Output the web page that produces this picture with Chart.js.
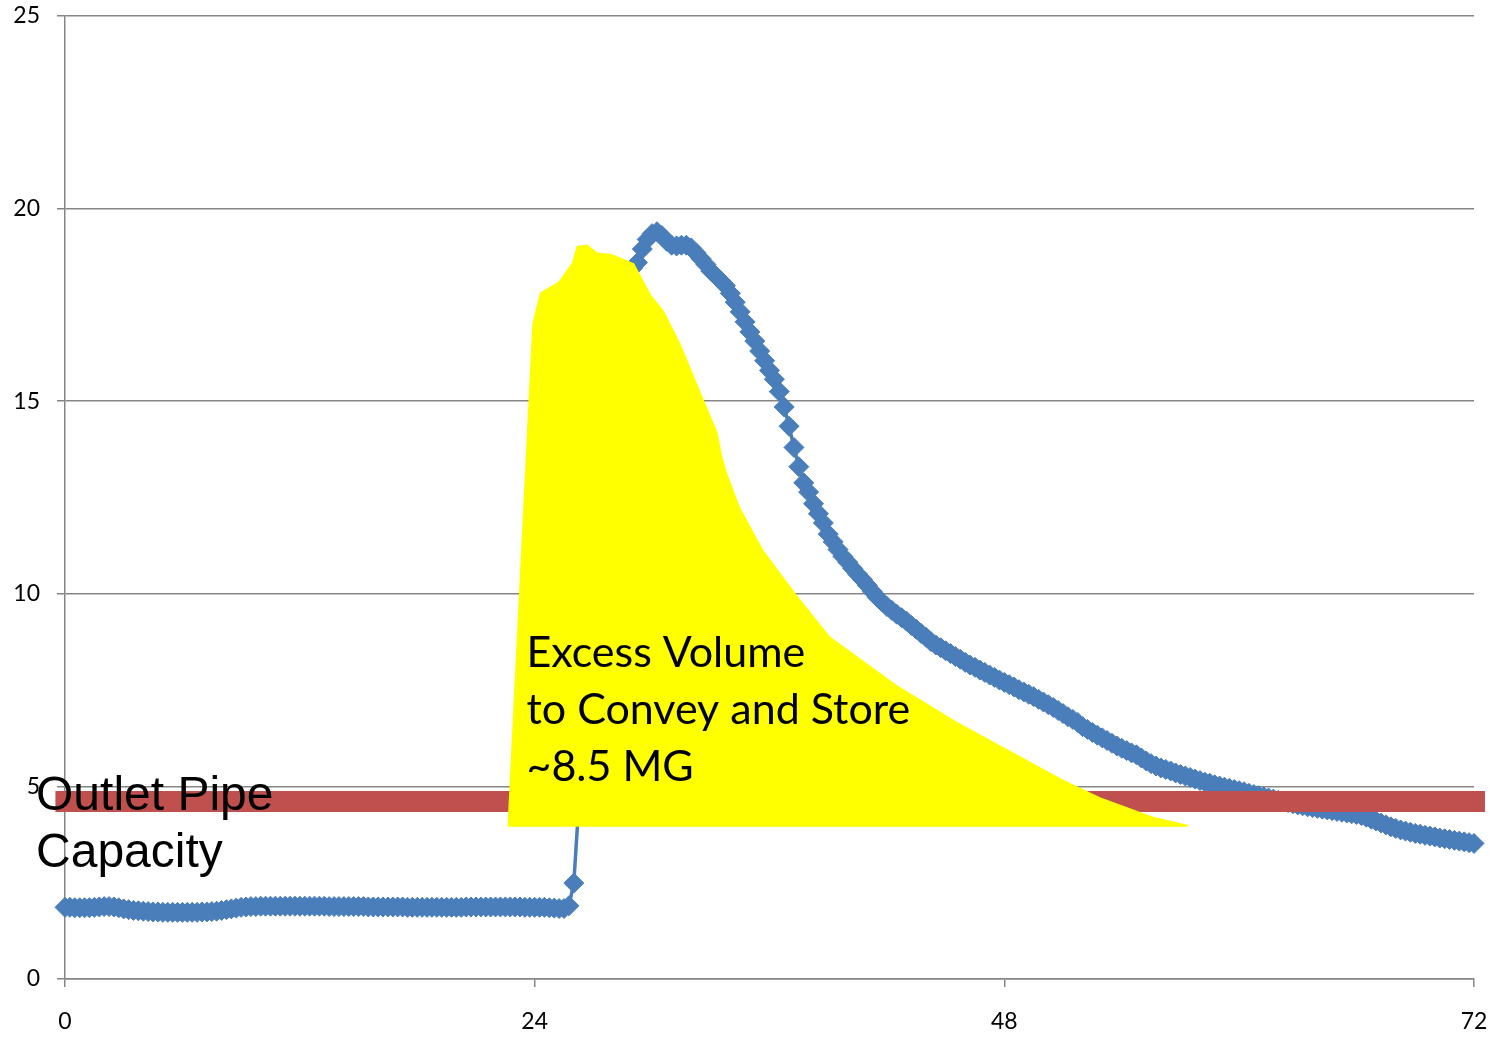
<!DOCTYPE html>
<html>
<head>
<meta charset="utf-8">
<script src="https://cdn.jsdelivr.net/npm/chart.js@4.4.1/dist/chart.umd.min.js"></script>
<style>
  html, body { margin: 0; padding: 0; background: #fff; }
</style>
</head>
<body>
<canvas id="flow-chart" width="1489" height="1038"></canvas>
<script>
// inflow, one reading every 15 minutes from hour 0 to hour 72 (one row = one hour)
const flow = [
  1.86, 1.86, 1.85, 1.85,
  1.85, 1.85, 1.86, 1.87,
  1.88, 1.88, 1.87, 1.85,
  1.82, 1.80, 1.78, 1.77,
  1.76, 1.75, 1.74, 1.74,
  1.73, 1.73, 1.73, 1.73,
  1.73, 1.73, 1.73, 1.73,
  1.74, 1.74, 1.75, 1.76,
  1.78, 1.80, 1.82, 1.84,
  1.86, 1.87, 1.88, 1.88,
  1.89, 1.89, 1.89, 1.89,
  1.89, 1.89, 1.89, 1.89,
  1.89, 1.89, 1.89, 1.89,
  1.89, 1.89, 1.88, 1.88,
  1.88, 1.88, 1.88, 1.88,
  1.88, 1.88, 1.87, 1.87,
  1.87, 1.87, 1.87, 1.87,
  1.87, 1.87, 1.86, 1.86,
  1.86, 1.86, 1.86, 1.86,
  1.86, 1.86, 1.86, 1.86,
  1.86, 1.86, 1.87, 1.87,
  1.87, 1.87, 1.87, 1.87,
  1.87, 1.87, 1.87, 1.87,
  1.87, 1.87, 1.86, 1.86,
  1.86, 1.86, 1.86, 1.85,
  1.84, 1.83, 1.83, 1.90,
  2.49, 4.50, 7.60, 10.60,
  13.00, 14.80, 16.00, 16.80,
  17.30, 17.70, 18.00, 18.30,
  18.45, 18.60, 18.95, 19.20,
  19.35, 19.40, 19.30, 19.15,
  19.05, 19.03, 19.05, 19.05,
  18.98, 18.85, 18.70, 18.55,
  18.38, 18.26, 18.13, 18.00,
  17.80, 17.57, 17.32, 17.06,
  16.80, 16.56, 16.30, 16.05,
  15.80, 15.57, 15.25, 14.85,
  14.35, 13.80, 13.30, 12.88,
  12.64, 12.34, 12.08, 11.84,
  11.55, 11.35, 11.15, 10.97,
  10.82, 10.66, 10.51, 10.37,
  10.22, 10.06, 9.91, 9.79,
  9.67, 9.57, 9.47, 9.38,
  9.29, 9.18, 9.08, 8.97,
  8.87, 8.76, 8.67, 8.60,
  8.52, 8.45, 8.37, 8.30,
  8.22, 8.15, 8.09, 8.02,
  7.96, 7.89, 7.83, 7.76,
  7.70, 7.64, 7.58, 7.51,
  7.45, 7.39, 7.33, 7.26,
  7.19, 7.12, 7.05, 6.97,
  6.89, 6.81, 6.74, 6.66,
  6.55, 6.48, 6.40, 6.33,
  6.26, 6.19, 6.12, 6.05,
  5.99, 5.93, 5.87, 5.82,
  5.74, 5.66, 5.59, 5.53,
  5.48, 5.44, 5.40, 5.35,
  5.31, 5.27, 5.23, 5.19,
  5.15, 5.11, 5.08, 5.04,
  5.01, 4.98, 4.95, 4.92,
  4.89, 4.86, 4.82, 4.79,
  4.76, 4.73, 4.70, 4.67,
  4.64, 4.61, 4.58, 4.55,
  4.52, 4.50, 4.47, 4.45,
  4.43, 4.41, 4.39, 4.37,
  4.35, 4.33, 4.31, 4.29,
  4.27, 4.24, 4.20, 4.15,
  4.10, 4.05, 4.00, 3.95,
  3.91, 3.87, 3.84, 3.81,
  3.78, 3.76, 3.73, 3.71,
  3.69, 3.66, 3.64, 3.62,
  3.60, 3.58, 3.56, 3.54,
  3.52
];
const stepHours = 0.25;

// outlet pipe capacity line
const capacityX = [-0.49, 72.56];
const capacityY = [4.61, 4.61];

// outline of the yellow "excess volume" area
const excessX = [22.61, 23.88, 24.27, 25.21, 25.89, 26.15, 26.69, 27.20, 27.94, 29.08,
  29.95, 30.61, 31.48, 32.60, 33.34, 33.57, 33.83, 34.49, 35.68, 37.39,
  39.09, 42.50, 45.57, 51.01, 52.89, 55.61, 57.40];
const excessY = [3.95, 17.02, 17.82, 18.10, 18.58, 19.03, 19.07, 18.86, 18.82, 18.58,
  17.76, 17.34, 16.46, 15.08, 14.20, 13.60, 13.14, 12.25, 11.14, 9.97,
  8.89, 7.63, 6.68, 5.17, 4.72, 4.21, 4.00];
const excessBase = 3.95;

const xTicks = [0, 24, 48, 72];
const yTicks = [0, 5, 10, 15, 20, 25];

const pipeText = ["Outlet Pipe", "Capacity"];
const pipeTextX = -1.48;
const pipeTextY = [4.39, 2.91];
const excessText = ["Excess Volume", "to Convey and Store", "~8.5 MG"];
const excessTextX = 23.58;
const excessTextY = [8.10, 6.62, 5.14];

const GRID = '#868686';

function points(xs, ys) {
  return xs.map((x, i) => ({ x: x, y: ys[i] }));
}

// keep the plot area where the layout padding puts it
function noScalePadding(s) {
  s.paddingLeft = 0;
  s.paddingRight = 0;
  s.paddingTop = 0;
  s.paddingBottom = 0;
}

// text boxes drawn over the datasets
const notes = {
  id: 'notes',
  afterDatasetsDraw(chart) {
    const ctx = chart.ctx;
    const xs = chart.scales.x, ys = chart.scales.y;
    ctx.save();
    ctx.fillStyle = '#000';
    ctx.textAlign = 'left';
    ctx.textBaseline = 'alphabetic';
    ctx.font = '48px "Liberation Sans", Arial, sans-serif';
    pipeText.forEach((t, i) => {
      ctx.fillText(t, xs.getPixelForValue(pipeTextX), ys.getPixelForValue(pipeTextY[i]));
    });
    ctx.font = '43px Lato, "Open Sans", sans-serif';
    excessText.forEach((t, i) => {
      ctx.fillText(t, xs.getPixelForValue(excessTextX), ys.getPixelForValue(excessTextY[i]));
    });
    ctx.restore();
  }
};

new Chart(document.getElementById('flow-chart'), {
  type: 'line',
  data: {
    datasets: [
      {
        label: 'Excess volume',
        data: points(excessX, excessY),
        order: 0,
        borderWidth: 0,
        borderColor: 'rgba(0,0,0,0)',
        backgroundColor: '#FFFF00',
        fill: { value: excessBase },
        pointRadius: 0,
        tension: 0
      },
      {
        label: 'Outlet pipe capacity',
        data: points(capacityX, capacityY),
        order: 1,
        borderColor: '#C0504D',
        borderWidth: 21,
        borderCapStyle: 'butt',
        pointRadius: 0,
        fill: false,
        clip: false
      },
      {
        label: 'Inflow',
        data: flow.map((v, i) => ({ x: i * stepHours, y: v })),
        order: 2,
        borderColor: '#4A7EBB',
        borderWidth: 3.5,
        pointStyle: 'rectRot',
        pointRadius: 10,
        pointBackgroundColor: '#4A7EBB',
        pointBorderColor: '#4A7EBB',
        pointBorderWidth: 1,
        fill: false,
        tension: 0,
        clip: false
      }
    ]
  },
  options: {
    responsive: false,
    animation: false,
    layout: { padding: { top: 16, right: 15, left: 0, bottom: 0 } },
    plugins: {
      legend: { display: false },
      tooltip: { enabled: false }
    },
    scales: {
      x: {
        type: 'linear',
        min: 0,
        max: 72,
        afterFit: (s) => { s.height = 59; noScalePadding(s); },
        afterBuildTicks: (s) => { s.ticks = xTicks.map(v => ({ value: v })); },
        ticks: { color: '#000', padding: 21, font: { family: 'Lato', size: 23 } },
        grid: { drawOnChartArea: false, drawTicks: true, tickLength: 8, color: GRID, lineWidth: 1.5 },
        border: { display: true, color: GRID, width: 1.5 }
      },
      y: {
        min: 0,
        max: 25,
        afterFit: (s) => { s.width = 65; noScalePadding(s); },
        afterBuildTicks: (s) => { s.ticks = yTicks.map(v => ({ value: v })); },
        ticks: { color: '#000', padding: 17, font: { family: 'Lato', size: 23 } },
        grid: { color: GRID, lineWidth: 1.5, tickLength: 8 },
        border: { display: true, color: GRID, width: 1.5 }
      }
    }
  },
  plugins: [notes]
});
</script>
</body>
</html>
